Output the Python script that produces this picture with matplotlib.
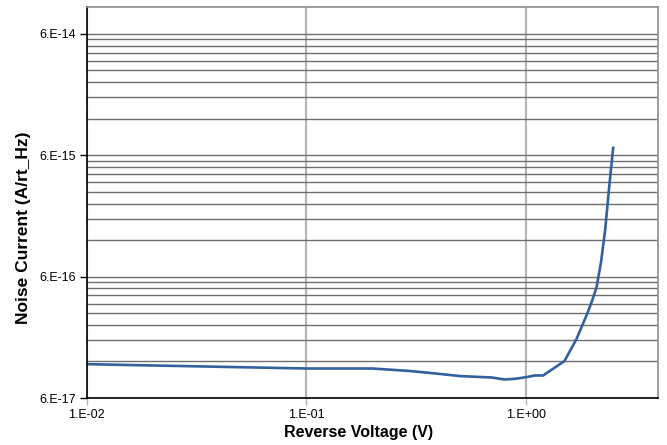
import numpy as np
import matplotlib
matplotlib.use('Agg')
import matplotlib.pyplot as plt
from matplotlib.ticker import FixedLocator, FixedFormatter, NullFormatter

# ------------------------------------------------------------
# data
# ------------------------------------------------------------
voltage = [0.01, 0.1, 0.2, 0.3, 0.4, 0.5, 0.7, 0.8, 0.9, 1.0, 1.1, 1.2,
           1.5, 1.7, 1.9, 2.0, 2.1, 2.2, 2.3, 2.4, 2.5]
noise = [1.14e-16, 1.05e-16, 1.05e-16, 1.00e-16, 0.95e-16, 0.91e-16,
         0.885e-16, 0.852e-16, 0.865e-16, 0.89e-16, 0.92e-16, 0.92e-16,
         1.21e-16, 1.83e-16, 2.94e-16, 3.76e-16, 4.9e-16, 7.86e-16,
         1.47e-15, 3.37e-15, 6.9e-15]

x_ticks = [0.01, 0.1, 1.0]
x_labels = ['1.E-02', '1.E-01', '1.E+00']
y_ticks = [6e-17, 6e-16, 6e-15, 6e-14]
y_labels = ['6.E-17', '6.E-16', '6.E-15', '6.E-14']

plt.rcParams['font.family'] = ['Liberation Sans', 'DejaVu Sans']

fig = plt.figure(figsize=(6.67, 4.45), dpi=100)
ax = fig.add_axes([0.130, 0.1056, 0.8565, 0.879])

ax.set_xscale('log')
ax.set_yscale('log')
ax.set_xlim(0.01, 4.0)
ax.set_ylim(6e-17, 1e-13)

# minor grid lines at 2..9 x each major value
minor_y = [k * m for m in y_ticks for k in range(2, 10) if k * m < 1e-13]
ax.yaxis.set_major_locator(FixedLocator(y_ticks))
ax.yaxis.set_major_formatter(FixedFormatter(y_labels))
ax.yaxis.set_minor_locator(FixedLocator(minor_y))
ax.yaxis.set_minor_formatter(NullFormatter())
ax.xaxis.set_major_locator(FixedLocator(x_ticks))
ax.xaxis.set_major_formatter(FixedFormatter(x_labels))
ax.xaxis.set_minor_locator(FixedLocator([]))

ax.grid(True, which='major', axis='y', color='#6e6e6e', linewidth=1.0)
ax.grid(True, which='minor', axis='y', color='#6e6e6e', linewidth=1.0)
ax.grid(True, which='major', axis='x', color='#b4b4b4', linewidth=1.5)
ax.set_axisbelow(True)

ax.tick_params(axis='y', which='major', direction='out', length=5, width=1,
               labelsize=9, pad=3)
ax.tick_params(axis='y', which='minor', length=0)
ax.tick_params(axis='x', which='major', direction='out', length=5, width=1,
               labelsize=9, pad=3, color='#b4b4b4')

for s in ['left', 'bottom']:
    ax.spines[s].set_color('black')
    ax.spines[s].set_linewidth(1.2)
for s in ['top', 'right']:
    ax.spines[s].set_color('#8c8c8c')
    ax.spines[s].set_linewidth(1.2)

ax.plot(voltage, noise, color='#33619e', linewidth=1.9, solid_joinstyle='round')

ax.set_xlabel('Reverse Voltage (V)', fontsize=11.5, fontweight='bold')
ax.set_ylabel('Noise Current (A/rt_Hz)', fontsize=12.5, fontweight='bold')
# labels sit a little off-centre in the original
ax.xaxis.set_label_coords(0.475, -0.068)
ax.yaxis.set_label_coords(-0.098, 0.435)

fig.savefig('out.png', dpi=100)
